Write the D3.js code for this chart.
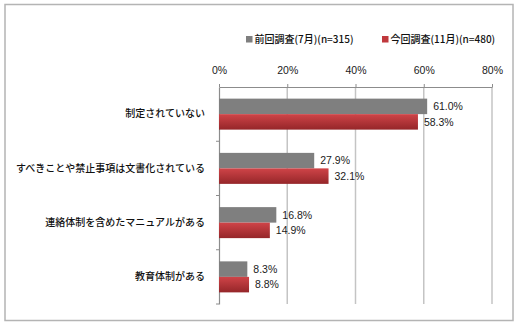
<!DOCTYPE html>
<html>
<head>
<meta charset="utf-8">
<script src="https://cdn.jsdelivr.net/npm/d3@7"></script>
<style>
  html, body { margin: 0; padding: 0; background: #fff; }
  svg { display: block; }
  text { font-family: "Liberation Sans", Arial, "Noto Sans CJK JP", sans-serif; }
  .jp { font-family: "Noto Sans CJK JP", "Liberation Sans", sans-serif; font-weight: 500; }
</style>
</head>
<body>
<svg id="chart" width="520" height="328"></svg>
<script>
// Survey categories and the two survey rounds (percent)
const categories = [
  "制定されていない",
  "すべきことや禁止事項は文書化されている",
  "連絡体制を含めたマニュアルがある",
  "教育体制がある"
];
const seriesNames = ["前回調査(7月)(n=315)", "今回調査(11月)(n=480)"];
const previousValues = [61.0, 27.9, 16.8, 8.3];
const currentValues = [58.3, 32.1, 14.9, 8.8];
const tickValues = [0, 20, 40, 60, 80];

const svg = d3.select("#chart");

// frame
svg.append("rect")
  .attr("x", 5).attr("y", 4.5).attr("width", 508).attr("height", 316)
  .attr("fill", "#fff").attr("stroke", "#b4b4b4").attr("stroke-width", 1.5);

const defs = svg.append("defs");
const grad = defs.append("linearGradient")
  .attr("id", "redGrad").attr("x1", 0).attr("y1", 0).attr("x2", 0).attr("y2", 1);
grad.append("stop").attr("offset", "0%").attr("stop-color", "#cf4448");
grad.append("stop").attr("offset", "100%").attr("stop-color", "#952629");

const plot = { left: 219, right: 492, top: 87, bottom: 304 };

const x = d3.scaleLinear().domain([0, 80]).range([plot.left, plot.right]);
const y = d3.scaleBand().domain(categories).range([plot.top, plot.bottom]);
const ySub = d3.scaleBand().domain(seriesNames).range([0, y.bandwidth()])
  .paddingInner(0).paddingOuter(0.75);

const colors = ["#7f7f7f", "url(#redGrad)"];
const swatch = ["#7f7f7f", "#c0393d"];

// vertical gridlines
svg.append("g").selectAll("line")
  .data(tickValues.filter(d => d > 0))
  .join("line")
  .attr("x1", d => x(d)).attr("x2", d => x(d))
  .attr("y1", plot.top).attr("y2", plot.bottom)
  .attr("stroke", "#c4c4c4").attr("stroke-width", 1.5);

// top axis
const xAxis = svg.append("g")
  .attr("transform", `translate(0,${plot.top})`)
  .call(d3.axisTop(x).tickValues(tickValues).tickFormat(d => d + "%")
    .tickSize(3).tickSizeOuter(0).tickPadding(10));
xAxis.select(".domain").attr("stroke", "#8c8c8c").attr("stroke-width", 1.2);
xAxis.selectAll(".tick line").attr("stroke", "#8c8c8c");
xAxis.selectAll(".tick text")
  .attr("font-size", 10.5).attr("fill", "#1a1a1a")
  .style("font-family", "'Liberation Sans', Arial, sans-serif");

// left axis with category labels
const yAxis = svg.append("g")
  .attr("transform", `translate(${plot.left},0)`)
  .call(d3.axisLeft(y).tickSize(0).tickPadding(14));
yAxis.select(".domain").attr("stroke", "#8c8c8c").attr("stroke-width", 1.2);
yAxis.selectAll(".tick text")
  .attr("class", "jp")
  .attr("font-size", 10).attr("fill", "#111");

// band separators on the category axis
svg.append("g").selectAll("line")
  .data(categories.slice(1).map(c => y(c)).concat([plot.bottom]))
  .join("line")
  .attr("x1", plot.left - 3).attr("x2", plot.left)
  .attr("y1", d => d).attr("y2", d => d)
  .attr("stroke", "#8c8c8c");

// bars
const rows = categories.map((c, i) => ({
  category: c,
  values: [previousValues[i], currentValues[i]]
}));

const groups = svg.append("g").selectAll("g")
  .data(rows)
  .join("g")
  .attr("transform", d => `translate(0,${y(d.category)})`);

groups.selectAll("rect")
  .data(d => d.values.map((v, k) => ({ series: seriesNames[k], value: v, k })))
  .join("rect")
  .attr("x", x(0))
  .attr("y", d => ySub(d.series))
  .attr("width", d => x(d.value) - x(0))
  .attr("height", ySub.bandwidth())
  .attr("fill", d => colors[d.k]);

groups.selectAll("text")
  .data(d => d.values.map((v, k) => ({ series: seriesNames[k], value: v, k })))
  .join("text")
  .attr("x", d => x(d.value) + 6)
  .attr("y", d => ySub(d.series) + ySub.bandwidth() / 2)
  .attr("dy", "0.35em")
  .attr("font-size", 10.5)
  .attr("fill", "#1a1a1a")
  .text(d => d.value.toFixed(1) + "%");

// legend
const legendX = [246, 382];
const legend = svg.append("g").selectAll("g")
  .data(seriesNames)
  .join("g")
  .attr("transform", (d, i) => `translate(${legendX[i]},36)`);
legend.append("rect")
  .attr("width", 6.5).attr("height", 6.5)
  .attr("fill", (d, i) => swatch[i]);
legend.append("text")
  .attr("class", "jp")
  .attr("x", 8.5).attr("y", 3.5).attr("dy", "0.35em")
  .attr("font-size", 10).attr("fill", "#111")
  .text(d => d);
</script>
</body>
</html>
